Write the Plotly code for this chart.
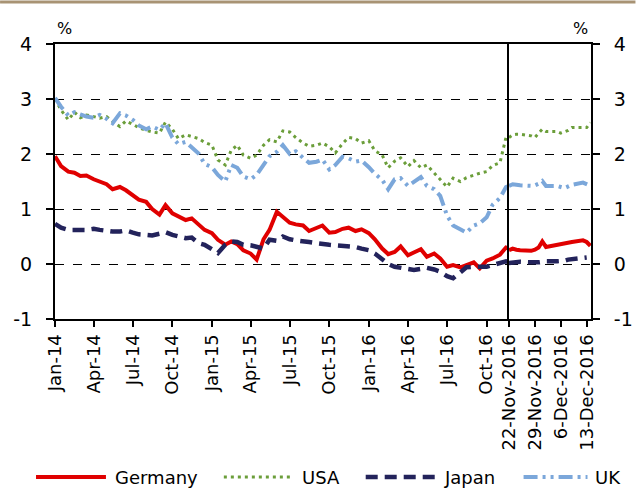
import plotly.graph_objects as go
import pandas as pd

# semi-monthly readings Jan-14 .. 15-Nov-16, then 22-Nov-16
main_dates = list(pd.date_range("2014-01-01", "2016-11-15", freq="SMS").strftime("%Y-%m-%d")) + ["2016-11-22"]

germany = [1.96, 1.78, 1.68, 1.66, 1.60, 1.61, 1.54, 1.50, 1.45, 1.36, 1.40, 1.34, 1.24, 1.17, 1.13, 1.00,
           0.90, 1.07, 0.92, 0.86, 0.80, 0.83, 0.71, 0.62, 0.56, 0.44, 0.35, 0.41, 0.36, 0.25, 0.19, 0.08,
           0.45, 0.62, 0.95, 0.85, 0.75, 0.72, 0.70, 0.60, 0.66, 0.70, 0.57, 0.58, 0.64, 0.66, 0.60, 0.63,
           0.56, 0.45, 0.28, 0.18, 0.22, 0.32, 0.16, 0.22, 0.27, 0.13, 0.19, 0.10, -0.05, -0.02, -0.06, -0.02,
           0.03, -0.08, 0.06, 0.10, 0.17, 0.30, 0.28]
usa = [3.00, 2.80, 2.62, 2.76, 2.66, 2.71, 2.68, 2.65, 2.68, 2.59, 2.50, 2.60, 2.54, 2.48, 2.43, 2.40,
       2.38, 2.58, 2.45, 2.28, 2.35, 2.32, 2.28, 2.21, 2.16, 1.89, 1.80, 2.07, 2.16, 1.98, 1.92, 1.98,
       2.16, 2.26, 2.22, 2.42, 2.40, 2.30, 2.20, 2.14, 2.16, 2.20, 2.13, 2.02, 2.19, 2.30, 2.28, 2.20,
       2.24, 2.06, 1.98, 1.75, 1.87, 1.93, 1.77, 1.88, 1.75, 1.80, 1.65, 1.53, 1.40, 1.56, 1.50, 1.57,
       1.62, 1.65, 1.68, 1.79, 1.84, 2.30, 2.28]
japan = [0.73, 0.66, 0.62, 0.61, 0.62, 0.62, 0.64, 0.62, 0.60, 0.59, 0.59, 0.61, 0.57, 0.54, 0.53, 0.52,
         0.55, 0.58, 0.53, 0.50, 0.47, 0.48, 0.38, 0.35, 0.28, 0.20, 0.35, 0.41, 0.40, 0.35, 0.34, 0.31,
         0.28, 0.44, 0.42, 0.50, 0.45, 0.43, 0.42, 0.40, 0.38, 0.36, 0.35, 0.34, 0.33, 0.32, 0.31, 0.28,
         0.25, 0.19, 0.08, 0.00, -0.05, -0.07, -0.08, -0.11, -0.09, -0.07, -0.10, -0.14, -0.22, -0.26, -0.15, -0.06,
         -0.05, -0.05, -0.05, -0.02, 0.02, 0.05, 0.03]
uk = [3.02, 2.86, 2.70, 2.76, 2.72, 2.68, 2.66, 2.71, 2.64, 2.56, 2.74, 2.70, 2.62, 2.52, 2.45, 2.50,
      2.44, 2.56, 2.30, 2.18, 2.22, 2.13, 2.01, 1.82, 1.76, 1.62, 1.50, 1.80, 1.75, 1.59, 1.54, 1.62,
      1.80, 1.96, 2.04, 2.16, 2.00, 2.05, 1.93, 1.84, 1.86, 1.90, 1.72, 1.80, 1.95, 1.92, 1.86, 1.88,
      1.76, 1.64, 1.53, 1.36, 1.54, 1.56, 1.42, 1.50, 1.58, 1.42, 1.36, 1.24, 0.88, 0.70, 0.62, 0.57,
      0.70, 0.74, 0.85, 1.08, 1.20, 1.40, 1.42]

# daily readings, zoomed panel
daily_dates = ["2016-11-22", "2016-11-23", "2016-11-24", "2016-11-25", "2016-11-28", "2016-11-29",
               "2016-11-30", "2016-12-01", "2016-12-02", "2016-12-05", "2016-12-06", "2016-12-07",
               "2016-12-08", "2016-12-09", "2016-12-12", "2016-12-13", "2016-12-14"]
germany_d = [0.25, 0.28, 0.26, 0.25, 0.24, 0.26, 0.30, 0.41, 0.31, 0.35, 0.37, 0.38, 0.40, 0.40, 0.43, 0.40, 0.33]
usa_d = [2.30, 2.35, 2.36, 2.36, 2.33, 2.30, 2.38, 2.45, 2.41, 2.41, 2.38, 2.40, 2.43, 2.48, 2.48, 2.48, 2.57]
japan_d = [0.02, 0.03, 0.04, 0.04, 0.03, 0.02, 0.03, 0.04, 0.05, 0.05, 0.05, 0.06, 0.08, 0.09, 0.11, 0.12, None]
uk_d = [1.42, 1.45, 1.44, 1.43, 1.42, 1.43, 1.46, 1.51, 1.42, 1.42, 1.40, 1.38, 1.41, 1.44, 1.48, 1.45, 1.42]

main_ticks = ["2014-01-01", "2014-04-01", "2014-07-01", "2014-10-01", "2015-01-01", "2015-04-01",
              "2015-07-01", "2015-10-01", "2016-01-01", "2016-04-01", "2016-07-01", "2016-10-01"]
week_ticks = ["2016-11-22", "2016-11-29", "2016-12-06", "2016-12-13"]
week_labels = ["22-Nov-2016", "29-Nov-2016", "6-Dec-2016", "13-Dec-2016"]
y_ticks = [-1, 0, 1, 2, 3, 4]
y_labels = ["-1", "0", "1", "2", "3", "4"]

styles = [
    ("Germany", germany, germany_d, dict(color="#E00000", width=4)),
    ("USA", usa, usa_d, dict(color="#6B9E3A", width=3, dash="3px,4px")),
    ("Japan", japan, japan_d, dict(color="#23235B", width=4.5, dash="12px,7px")),
    ("UK", uk, uk_d, dict(color="#7BA7DA", width=4, dash="14px,5px,3px,5px,3px,5px")),
]

fig = go.Figure()
for name, vals, vals_d, line in styles:
    fig.add_trace(go.Scatter(x=main_dates, y=vals, mode="lines", name=name, line=line,
                             xaxis="x", yaxis="y", showlegend=False))
for name, vals, vals_d, line in styles:
    fig.add_trace(go.Scatter(x=daily_dates, y=vals_d, mode="lines", name=name, line=line,
                             xaxis="x2", yaxis="y2", showlegend=False))

W, H = 636, 488
L, R, T, B = 55, 44.5, 44, 169
pw, ph = W - L - R, H - T - B
split = 0.847


def px(x):
    return (x - L) / pw


def py(y):
    return 1 - (y - T) / ph


font = "DejaVu Sans"
common_x = dict(type="date", showgrid=False, showline=True, linecolor="black", linewidth=2,
                mirror=True, ticks="outside", ticklen=6, tickcolor="black", tickwidth=1.5,
                tickangle=-90, tickfont=dict(family=font, size=18, color="black"), zeroline=False,
                automargin=False)
common_y = dict(range=[-1, 4], tickvals=y_ticks, ticktext=y_labels, showgrid=True, gridcolor="black",
                griddash="dash", gridwidth=1.3, showline=True, linecolor="black", linewidth=2,
                ticks="outside", ticklen=7, tickcolor="black", tickwidth=1.5, ticklabelstandoff=10,
                tickfont=dict(family=font, size=19, color="black"), zeroline=False, automargin=False)

fig.update_layout(
    width=W, height=H,
    margin=dict(l=L, r=R, t=T, b=B, autoexpand=False),
    paper_bgcolor="white", plot_bgcolor="white",
    xaxis=dict(common_x, domain=[0, split], range=["2014-01-01", "2016-11-22"],
               tickvals=main_ticks, tickformat="%b-%y", anchor="y"),
    xaxis2=dict(common_x, domain=[split, 1], range=["2016-11-22", "2016-12-14 04:00"],
                tickvals=week_ticks, ticktext=week_labels, anchor="y2"),
    yaxis=dict(common_y, anchor="x", side="left"),
    yaxis2=dict(common_y, anchor="x2", side="right", mirror=True),
    showlegend=False,
)

# percent labels above each axis
for xs in [65, 581]:
    fig.add_annotation(x=px(xs), y=py(28), xref="paper", yref="paper", text="%",
                       xanchor="center", yanchor="middle", showarrow=False,
                       font=dict(family=font, size=16, color="black"))

# thin rule at very top of the page
fig.add_shape(type="line", xref="paper", yref="paper", x0=px(0), x1=px(W),
              y0=py(2), y1=py(2), line=dict(color="#A89374", width=3))

# legend drawn below the axis labels
legend_pos = [(36, 106, 113), (224, 292, 300), (366, 436, 442), (524, 588, 594)]
for (name, _, _, line), (x0, x1, xt) in zip(styles, legend_pos):
    fig.add_shape(type="line", xref="paper", yref="paper", x0=px(x0), x1=px(x1),
                  y0=py(477), y1=py(477), line=line)
    fig.add_annotation(x=px(xt), y=py(477), xref="paper", yref="paper", text=name,
                       xanchor="left", yanchor="middle", showarrow=False,
                       font=dict(family=font, size=18, color="black"))

fig.write_html("out.html", config={"displayModeBar": False},
               post_script="document.body.style.margin='0px';")
